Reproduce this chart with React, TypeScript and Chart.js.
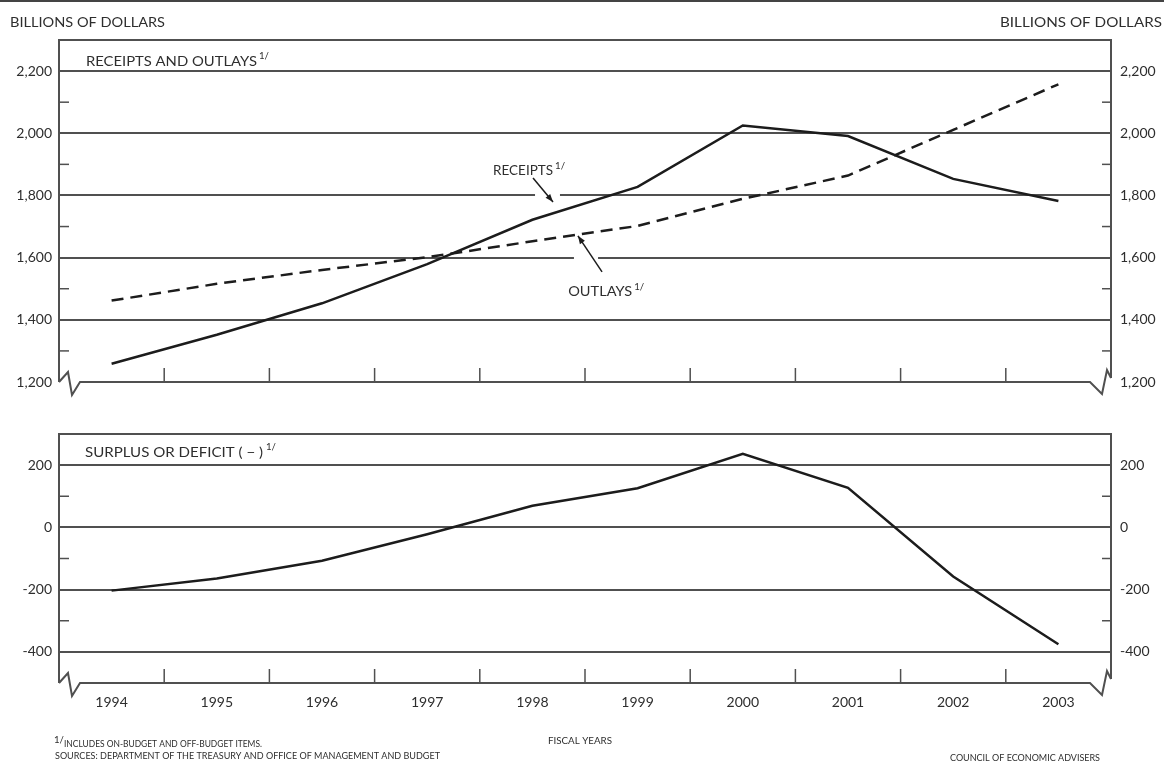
import { useEffect, useRef } from 'react';
import { Chart, registerables } from 'chart.js';

Chart.register(...registerables);

const W = 1164;
const H = 768;

// ---- data ----
const YEARS = ['1994', '1995', '1996', '1997', '1998', '1999', '2000', '2001', '2002', '2003'];
const RECEIPTS = [1258.6, 1351.8, 1453.1, 1579.3, 1721.8, 1827.5, 2025.2, 1991.2, 1853.2, 1782.3];
const OUTLAYS = [1461.8, 1515.8, 1560.5, 1601.2, 1652.6, 1701.9, 1789.1, 1863.9, 2011.0, 2157.6];
const SURPLUS = [-203.2, -164.0, -107.5, -21.9, 69.3, 125.6, 236.2, 127.3, -157.8, -375.3];

// ---- tick values ----
const TOP_LABELS = [1200, 1400, 1600, 1800, 2000, 2200];
const TOP_GRID = [1400, 1600, 1800, 2000, 2200];
const TOP_MINOR = [1300, 1500, 1700, 1900, 2100];
const BOT_LABELS = [-400, -200, 0, 200];
const BOT_GRID = [-400, -200, 0, 200];
const BOT_MINOR = [-300, -100, 100];

const FONT = 'Lato, "DejaVu Sans", sans-serif';
const INK = '#2e2e2e';
const GRID = '#505050';
const LINE = '#1c1c1c';
const LEFT_W = 59;
const RIGHT_W = 53;

const fmt = (v: number) => v.toLocaleString('en-US');

// draws text stretched/compressed horizontally to an exact width, starting at x
function txtW(ctx: CanvasRenderingContext2D, s: string, x: number, y: number, size: number, width: number) {
  ctx.save();
  ctx.font = `${size}px ${FONT}`;
  ctx.fillStyle = INK;
  ctx.textAlign = 'left';
  ctx.textBaseline = 'middle';
  const m = ctx.measureText(s).width;
  ctx.translate(x, y);
  ctx.scale(width / m, 1);
  ctx.fillText(s, 0, 0);
  ctx.restore();
}

function seg(ctx: CanvasRenderingContext2D, x1: number, y1: number, x2: number, y2: number) {
  ctx.beginPath();
  ctx.moveTo(x1, y1);
  ctx.lineTo(x2, y2);
  ctx.stroke();
}

function arrow(ctx: CanvasRenderingContext2D, x1: number, y1: number, x2: number, y2: number) {
  ctx.save();
  ctx.strokeStyle = LINE;
  ctx.fillStyle = LINE;
  ctx.lineWidth = 1.5;
  seg(ctx, x1, y1, x2, y2);
  const a = Math.atan2(y2 - y1, x2 - x1);
  const len = 8;
  const w = 3;
  ctx.beginPath();
  ctx.moveTo(x2, y2);
  ctx.lineTo(x2 - len * Math.cos(a) + w * Math.sin(a), y2 - len * Math.sin(a) - w * Math.cos(a));
  ctx.lineTo(x2 - len * Math.cos(a) - w * Math.sin(a), y2 - len * Math.sin(a) + w * Math.cos(a));
  ctx.closePath();
  ctx.fill();
  ctx.restore();
}

function drawFrame(chart: any, minor: number[]) {
  const { ctx, chartArea } = chart;
  const { left: L, right: R, top: T, bottom: B } = chartArea;
  const y = chart.scales.y;
  const x = chart.scales.x;
  ctx.save();
  ctx.strokeStyle = GRID;
  ctx.lineWidth = 2;
  ctx.lineJoin = 'miter';
  ctx.beginPath();
  ctx.moveTo(L, B);
  ctx.lineTo(L, T);
  ctx.lineTo(R, T);
  ctx.lineTo(R, B - 4);
  ctx.stroke();
  ctx.beginPath();
  ctx.moveTo(L, B);
  ctx.lineTo(L + 9, B - 10);
  ctx.lineTo(L + 13, B + 13);
  ctx.lineTo(L + 21, B);
  ctx.lineTo(R - 21, B);
  ctx.lineTo(R - 9, B + 12);
  ctx.lineTo(R - 4, B - 12);
  ctx.lineTo(R, B - 4);
  ctx.stroke();
  ctx.lineWidth = 1.5;
  minor.forEach((v) => {
    const py = y.getPixelForValue(v);
    seg(ctx, L, py, L + 10, py);
    seg(ctx, R - 9, py, R, py);
  });
  for (let i = 1; i < YEARS.length; i++) {
    const px = (x.getPixelForValue(i - 1) + x.getPixelForValue(i)) / 2;
    seg(ctx, px, B, px, B - 14);
  }
  ctx.restore();
}

function sup(ctx: CanvasRenderingContext2D, x: number, y: number) {
  txtW(ctx, '1/', x, y, 9, 10);
}

const topPlugin = {
  id: 'topDeco',
  beforeDraw(chart: any) {
    const ctx = chart.ctx;
    ctx.save();
    ctx.fillStyle = '#ffffff';
    ctx.fillRect(0, 0, W, H);
    ctx.fillStyle = '#444444';
    ctx.fillRect(0, 0, W, 2);
    ctx.restore();
    txtW(ctx, 'BILLIONS OF DOLLARS', 10, 23, 13, 155);
    txtW(ctx, 'BILLIONS OF DOLLARS', 1000, 23, 13, 162);
    txtW(ctx, 'FISCAL YEARS', 548, 741, 10, 64);
    sup(ctx, 54, 740);
    txtW(ctx, 'INCLUDES ON-BUDGET AND OFF-BUDGET ITEMS.', 64, 744, 9, 198);
    txtW(ctx, 'SOURCES: DEPARTMENT OF THE TREASURY AND OFFICE OF MANAGEMENT AND BUDGET', 55, 756, 9, 385);
    txtW(ctx, 'COUNCIL OF ECONOMIC ADVISERS', 950, 758, 9, 150);
  },
  beforeDatasetsDraw(chart: any) {
    const ctx = chart.ctx;
    const x = chart.scales.x;
    const y = chart.scales.y;
    ctx.save();
    ctx.fillStyle = '#ffffff';
    // gaps in gridlines where the annotation arrows cross
    const g1a = x.getPixelForValue(4.025);
    const g1b = x.getPixelForValue(4.262);
    ctx.fillRect(g1a, y.getPixelForValue(1800) - 3, g1b - g1a, 6);
    const g2a = x.getPixelForValue(4.395);
    const g2b = x.getPixelForValue(4.624);
    ctx.fillRect(g2a, y.getPixelForValue(1600) - 3, g2b - g2a, 6);
    ctx.restore();
    drawFrame(chart, TOP_MINOR);
    txtW(ctx, 'RECEIPTS AND OUTLAYS', 86, 61, 14, 171);
    sup(ctx, 259, 56);
  },
  afterDatasetsDraw(chart: any) {
    const ctx = chart.ctx;
    const x = chart.scales.x;
    const y = chart.scales.y;
    const rx = x.getPixelForValue(3.626);
    const ry = y.getPixelForValue(1879);
    txtW(ctx, 'RECEIPTS', rx, ry, 13, 60);
    sup(ctx, rx + 62, ry - 5);
    arrow(ctx, x.getPixelForValue(4.006), y.getPixelForValue(1856), x.getPixelForValue(4.196), y.getPixelForValue(1779));
    const ox = x.getPixelForValue(4.34);
    const oy = y.getPixelForValue(1489);
    txtW(ctx, 'OUTLAYS', ox, oy, 13, 64);
    sup(ctx, ox + 66, oy - 5);
    arrow(ctx, x.getPixelForValue(4.662), y.getPixelForValue(1554), x.getPixelForValue(4.433), y.getPixelForValue(1670));
  },
};

const botPlugin = {
  id: 'botDeco',
  beforeDatasetsDraw(chart: any) {
    const ctx = chart.ctx;
    drawFrame(chart, BOT_MINOR);
    txtW(ctx, 'SURPLUS OR DEFICIT ( \u2212 )', 85, 452, 14, 178);
    sup(ctx, 266, 447);
  },
};

function yAxis(pos: 'left' | 'right', min: number, max: number, labels: number[], grid: number[]) {
  return {
    type: 'linear',
    position: pos,
    min,
    max,
    afterFit: (s: any) => {
      s.width = pos === 'left' ? LEFT_W : RIGHT_W;
    },
    grid: {
      display: pos === 'left',
      drawTicks: false,
      lineWidth: 2,
      color: (c: any) => (c.tick && grid.includes(c.tick.value) ? GRID : 'rgba(0,0,0,0)'),
    },
    border: { display: false },
    ticks: {
      stepSize: 100,
      autoSkip: false,
      padding: pos === 'left' ? 7 : 9,
      color: INK,
      font: { family: FONT, size: 14 },
      callback: (v: any) => (labels.includes(Number(v)) ? fmt(Number(v)) : ''),
    },
  };
}

export default function App() {
  const topRef = useRef<HTMLCanvasElement>(null);
  const botRef = useRef<HTMLCanvasElement>(null);

  useEffect(() => {
    const top = new Chart(topRef.current as HTMLCanvasElement, {
      type: 'line',
      data: {
        labels: YEARS,
        datasets: [
          { label: 'Receipts', data: RECEIPTS, borderColor: LINE, borderWidth: 2.5, pointRadius: 0, tension: 0, fill: false, yAxisID: 'y' },
          { label: 'Outlays', data: OUTLAYS, borderColor: LINE, borderWidth: 2.5, borderDash: [12, 7], pointRadius: 0, tension: 0, fill: false, yAxisID: 'y' },
        ],
      },
      options: {
        responsive: false,
        maintainAspectRatio: false,
        animation: false,
        devicePixelRatio: 1,
        layout: { padding: { top: 40, bottom: H - 382, left: 0, right: 0 } },
        plugins: { legend: { display: false }, tooltip: { enabled: false }, title: { display: false } },
        scales: {
          x: { type: 'category', offset: true, display: false },
          y: yAxis('left', 1200, 2300, TOP_LABELS, TOP_GRID),
          yR: yAxis('right', 1200, 2300, TOP_LABELS, TOP_GRID),
        } as any,
      },
      plugins: [topPlugin],
    } as any);

    const bot = new Chart(botRef.current as HTMLCanvasElement, {
      type: 'line',
      data: {
        labels: YEARS,
        datasets: [
          { label: 'Surplus or deficit', data: SURPLUS, borderColor: LINE, borderWidth: 2.5, pointRadius: 0, tension: 0, fill: false, yAxisID: 'y' },
        ],
      },
      options: {
        responsive: false,
        maintainAspectRatio: false,
        animation: false,
        devicePixelRatio: 1,
        layout: { padding: { top: 434, bottom: 55, left: 0, right: 0 } },
        plugins: { legend: { display: false }, tooltip: { enabled: false }, title: { display: false } },
        scales: {
          x: {
            type: 'category',
            offset: true,
            afterFit: (s: any) => {
              s.height = 30;
            },
            grid: { display: false, drawTicks: false },
            border: { display: false },
            ticks: { padding: 11, autoSkip: false, maxRotation: 0, color: INK, font: { family: FONT, size: 14 } },
          },
          y: yAxis('left', -500, 300, BOT_LABELS, BOT_GRID),
          yR: yAxis('right', -500, 300, BOT_LABELS, BOT_GRID),
        } as any,
      },
      plugins: [botPlugin],
    } as any);

    return () => {
      top.destroy();
      bot.destroy();
    };
  }, []);

  const cs: any = { position: 'absolute', left: 0, top: 0, width: W, height: H };
  return (
    <div style={{ position: 'absolute', left: 0, top: 0, width: W, height: H, background: '#fff' }}>
      <canvas ref={topRef} width={W} height={H} style={cs} />
      <canvas ref={botRef} width={W} height={H} style={cs} />
    </div>
  );
}
